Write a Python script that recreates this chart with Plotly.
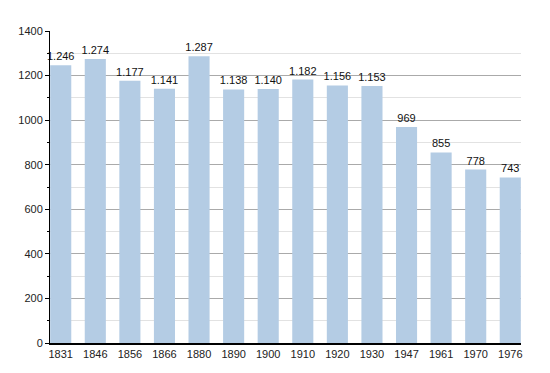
import plotly.graph_objects as go

years = ["1831", "1846", "1856", "1866", "1880", "1890", "1900", "1910", "1920", "1930", "1947", "1961", "1970", "1976"]
population = [1246, 1274, 1177, 1141, 1287, 1138, 1140, 1182, 1156, 1153, 969, 855, 778, 743]
labels = ["1.246", "1.274", "1.177", "1.141", "1.287", "1.138", "1.140", "1.182", "1.156", "1.153", "969", "855", "778", "743"]

fig = go.Figure(go.Bar(
    x=years, y=population, text=labels, textposition="outside", constraintext="none",
    textfont=dict(family="Liberation Sans, Arial", size=11, color="#111"),
    marker=dict(color="#b4cce4", line=dict(width=0)),
    width=0.61, cliponaxis=False,
))

fig.update_layout(
    width=550, height=373,
    margin=dict(l=42, r=37, t=23, b=38, autoexpand=False),
    plot_bgcolor="white", paper_bgcolor="white",
    showlegend=False,
    font=dict(family="Liberation Sans, Arial", size=11, color="#222"),
    xaxis=dict(type="category", range=[-0.31, 13.31], showline=True, linecolor="black", linewidth=1.5,
               ticks="", showgrid=False, tickfont=dict(size=11), automargin=False),
    yaxis=dict(range=[0, 1400], dtick=200, showline=True, linecolor="black", linewidth=1,
               ticks="outside", ticklen=4, tickcolor="black",
               showgrid=True, gridcolor="#aaaaaa", gridwidth=1, zeroline=False,
               minor=dict(dtick=100, showgrid=True, gridcolor="#e2e2e2", ticks="outside", ticklen=2, tickcolor="black"),
               tickfont=dict(size=11), automargin=False),
)

fig.write_html("out.html")
